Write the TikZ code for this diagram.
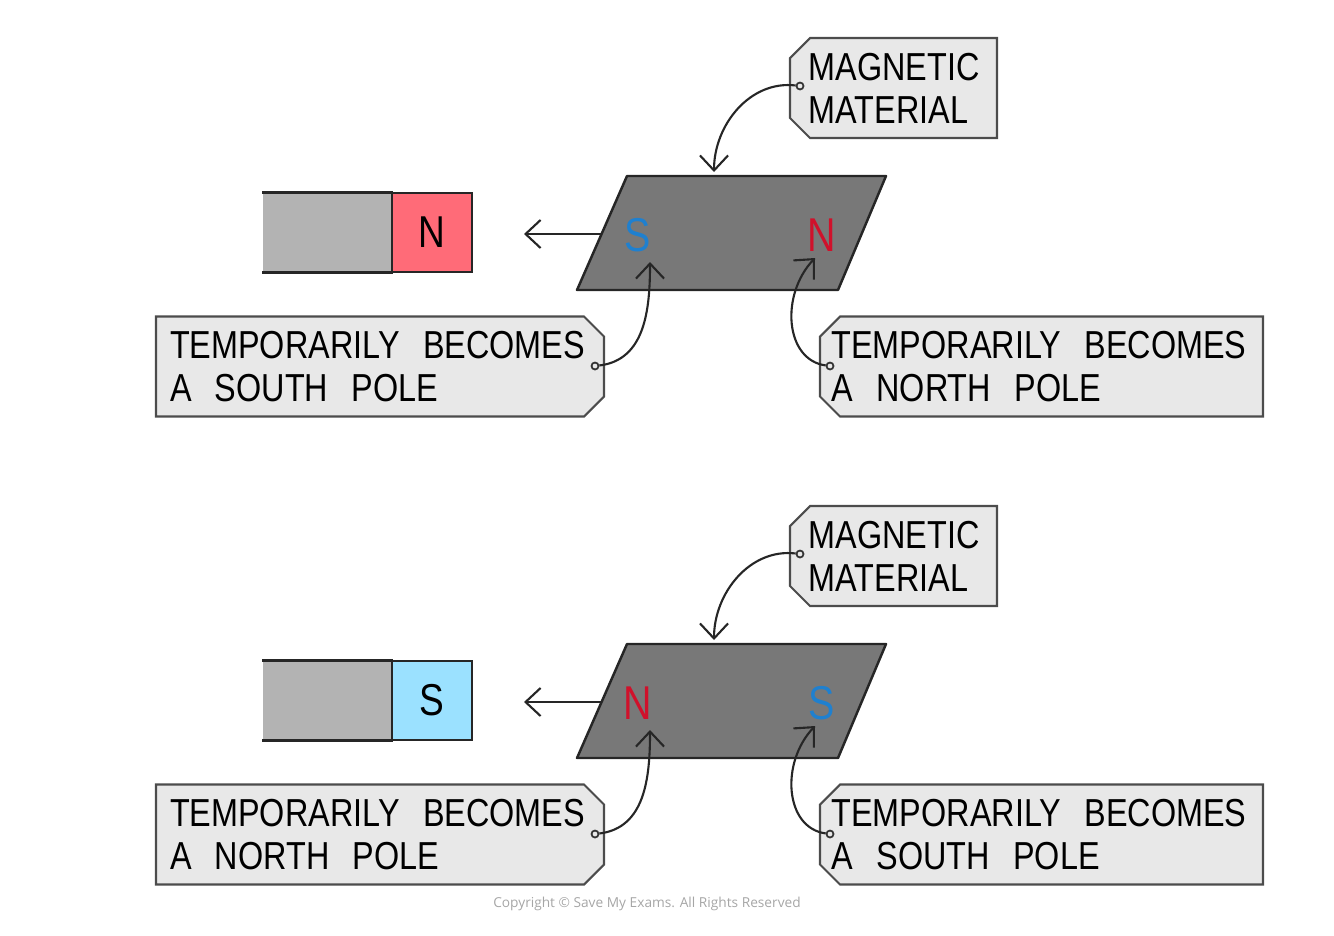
\documentclass[tikz,border=0pt]{standalone}
\usepackage{fontspec}
\usepackage{tikz}
\usetikzlibrary{arrows.meta,shapes.misc}
\setmainfont{Liberation Sans}
\newfontfamily\tagfont[FakeStretch=0.83]{Liberation Sans}
\newfontfamily\notefont{Open Sans}
\newcommand\wsp{\hspace{0.6em}}
\definecolor{tagfill}{HTML}{E8E8E8}
\definecolor{barfill}{HTML}{B3B3B3}
\definecolor{northfill}{HTML}{FF6B78}
\definecolor{southfill}{HTML}{9BE1FF}
\definecolor{northtext}{HTML}{D0112B}
\definecolor{southtext}{HTML}{1F80CF}
\definecolor{slabfill}{HTML}{787878}

\begin{document}
\begin{tikzpicture}[every node/.style={font=\tagfont\fontsize{11.1}{12.3}\selectfont},
  tag/.style={draw=black!70, fill=tagfill, line width=0.6pt, chamfered rectangle,
              chamfered rectangle xsep=0.1cm, chamfered rectangle ysep=0.1cm,
              inner sep=0pt, minimum height=1.0cm, align=left},
  tagL/.style={tag, chamfered rectangle corners={north east,south east}},
  tagR/.style={tag, chamfered rectangle corners={north west,south west}},
  hole/.style={circle, draw=black!80, fill=tagfill, line width=0.5pt,
               inner sep=0pt, minimum size=0.07cm},
  link/.style={draw=black!85, line width=0.6pt, -{Straight Barb[length=1.5mm,width=2.8mm]}},
  magbody/.style={fill=barfill, inner sep=0pt, minimum width=1.29cm, minimum height=0.79cm},
  magend/.style={draw=black!85, line width=0.7pt, inner sep=0pt, minimum width=0.8cm,
              minimum height=0.79cm, font=\tagfont\fontsize{12.7}{13}\selectfont},
  pole/.style={font=\tagfont\fontsize{13.5}{14}\selectfont},
  slab/.style={draw=black!85, fill=slabfill, line width=0.7pt, line join=round}]

  \useasboundingbox (0,0) rectangle (13.34,-9.35);

  % Top: north pole brought near
  \node[magbody] (barT) at (3.275,-2.325) {};
  \draw[line width=0.7pt, black!85] (barT.north west) -- (barT.north east)
                                    (barT.south west) -- (barT.south east);
  \node[magend, fill=northfill] (endT) at (4.32,-2.325) {N};
  \draw[slab] (6.27,-1.76) -- (8.86,-1.76) -- (8.38,-2.90) -- (5.77,-2.90) -- cycle;
  \node[pole, text=southtext] (pST) at (6.38,-2.35) {S};
  \node[pole, text=northtext] (pNT) at (8.22,-2.35) {N};
  \coordinate (outT) at (6.01,-2.34);
  \coordinate (goT) at (5.24,-2.34);
  \draw[link] (outT) -- (goT);

  \node[tagR, minimum width=2.07cm, text width=1.70cm] (tagMT) at (8.935,-0.88)
    {MAGNETIC\\MATERIAL};
  \node[tagL, minimum width=4.48cm, text width=4.20cm] (tagST) at (3.80,-3.665)
    {TEMPORARILY\wsp BECOMES\\A\wsp SOUTH\wsp POLE};
  \node[tagR, minimum width=4.43cm, text width=4.20cm] (tagNT) at (10.415,-3.665)
    {TEMPORARILY\wsp BECOMES\\A\wsp NORTH\wsp POLE};
  \node[hole] (hMT) at (8.00,-0.86) {};
  \node[hole] (hST) at (5.95,-3.66) {};
  \node[hole] (hNT) at (8.30,-3.66) {};
  \coordinate (eMT) at (7.14,-1.72);
  \coordinate (eST) at (6.50,-2.62);
  \coordinate (eNT) at (8.15,-2.58);
  \draw[link] (hMT) .. controls (7.50,-0.80) and (7.14,-1.25) .. (eMT);
  \draw[link] (hST) .. controls (6.45,-3.60) and (6.50,-3.10) .. (eST);
  \draw[link] (hNT) .. controls (7.85,-3.60) and (7.80,-2.95) .. (eNT);

  % Bottom: south pole brought near
  \begin{scope}[yshift=-4.68cm]
  \node[magbody] (barB) at (3.275,-2.325) {};
  \draw[line width=0.7pt, black!85] (barB.north west) -- (barB.north east)
                                    (barB.south west) -- (barB.south east);
  \node[magend, fill=southfill] (endB) at (4.32,-2.325) {S};
  \draw[slab] (6.27,-1.76) -- (8.86,-1.76) -- (8.38,-2.90) -- (5.77,-2.90) -- cycle;
  \node[pole, text=northtext] (pNB) at (6.38,-2.35) {N};
  \node[pole, text=southtext] (pSB) at (8.22,-2.35) {S};
  \coordinate (outB) at (6.01,-2.34);
  \coordinate (goB) at (5.24,-2.34);
  \draw[link] (outB) -- (goB);

  \node[tagR, minimum width=2.07cm, text width=1.70cm] (tagMB) at (8.935,-0.88)
    {MAGNETIC\\MATERIAL};
  \node[tagL, minimum width=4.48cm, text width=4.20cm] (tagNB) at (3.80,-3.665)
    {TEMPORARILY\wsp BECOMES\\A\wsp NORTH\wsp POLE};
  \node[tagR, minimum width=4.43cm, text width=4.20cm] (tagSB) at (10.415,-3.665)
    {TEMPORARILY\wsp BECOMES\\A\wsp SOUTH\wsp POLE};
  \node[hole] (hMB) at (8.00,-0.86) {};
  \node[hole] (hNB) at (5.95,-3.66) {};
  \node[hole] (hSB) at (8.30,-3.66) {};
  \coordinate (eMB) at (7.14,-1.72);
  \coordinate (eNB) at (6.50,-2.62);
  \coordinate (eSB) at (8.15,-2.58);
  \draw[link] (hMB) .. controls (7.50,-0.80) and (7.14,-1.25) .. (eMB);
  \draw[link] (hNB) .. controls (6.45,-3.60) and (6.50,-3.10) .. (eNB);
  \draw[link] (hSB) .. controls (7.85,-3.60) and (7.80,-2.95) .. (eSB);
  \end{scope}

  \node[font=\notefont\fontsize{3.9}{4}\selectfont, text=black!35] (note) at (6.47,-9.04)
    {Copyright \textcopyright\ Save My Exams. All Rights Reserved};
\end{tikzpicture}
\end{document}
